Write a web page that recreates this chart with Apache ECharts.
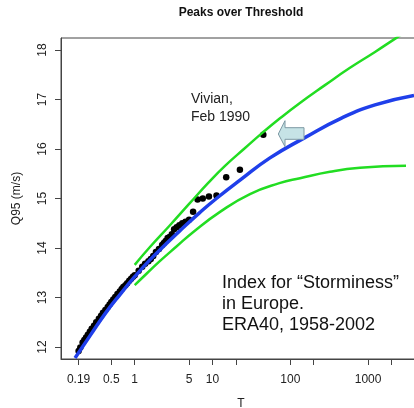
<!DOCTYPE html>
<html>
<head>
<meta charset="utf-8">
<script src="https://cdn.jsdelivr.net/npm/echarts@6/dist/echarts.min.js"></script>
<style>
  html, body { margin: 0; padding: 0; background: #fff; }
  #chart { width: 414px; height: 408px; }
</style>
</head>
<body>
<div id="chart"></div>
<script>
// Return period T (years) and Q95 storm index (m/s) of the observed peaks
const obsT = [45, 22.5, 15, 11.25, 9, 7.5, 6.43, 5.63, 5, 4.5, 4.09, 3.75, 3.46, 3.21, 3.0,
  2.81, 2.65, 2.5, 2.37, 2.25, 2.05, 1.875, 1.73, 1.61, 1.5, 1.36, 1.25, 1.125, 1.0, 0.95, 0.9,
  0.85, 0.8, 0.76, 0.714, 0.68, 0.643, 0.6, 0.5625, 0.53, 0.5, 0.475, 0.45, 0.42, 0.391, 0.37,
  0.346, 0.32, 0.3, 0.28, 0.265, 0.25, 0.237, 0.225, 0.214, 0.2, 0.19];
const obsQ = [16.29, 15.58, 15.43, 15.06, 15.04, 15.00, 14.98, 14.73, 14.57, 14.53, 14.50, 14.46, 14.42, 14.38, 14.28,
  14.22, 14.20, 14.14, 14.10, 14.06, 13.98, 13.92, 13.84, 13.78, 13.73, 13.68, 13.62, 13.54, 13.45, 13.42, 13.38,
  13.34, 13.29, 13.25, 13.21, 13.17, 13.12, 13.07, 13.01, 12.96, 12.91, 12.86, 12.81, 12.75, 12.69, 12.63,
  12.57, 12.50, 12.43, 12.37, 12.31, 12.25, 12.19, 12.14, 12.09, 11.99, 11.92];

// Fitted return level curve
const fitT = [0.171, 0.27, 0.415, 0.647, 1.0, 1.57, 2.45, 3.82, 6.91, 11.43, 22.57, 54.8, 150, 462, 1227, 3890];
const fitQ = [11.78, 12.24, 12.67, 13.06, 13.42, 13.76, 14.06, 14.35, 14.72, 15.01, 15.37, 15.82, 16.22, 16.63, 16.89, 17.08];

// Upper and lower confidence bounds
const upT = [1.0, 1.57, 2.84, 5.14, 8.75, 14.48, 26.2, 43.3, 73.7, 133, 279, 585, 1227, 2284, 3069];
const upQ = [13.66, 14.02, 14.46, 14.91, 15.31, 15.66, 16.02, 16.32, 16.62, 16.93, 17.29, 17.64, 17.96, 18.24, 18.37];
const loT = [1.0, 1.44, 2.12, 3.5, 5.62, 12.5, 30.3, 72.4, 133.3, 323.7, 787, 3069];
const loQ = [13.25, 13.49, 13.74, 14.04, 14.32, 14.73, 15.09, 15.31, 15.41, 15.54, 15.62, 15.66];

// Axis ticks
const xTickT = [0.19, 0.5, 1, 5, 10, 20, 100, 200, 1000, 2000];
const xLabelT = [0.19, 0.5, 1, 5, 10, 100, 1000];
const yTicks = [12, 13, 14, 15, 16, 17, 18];

const FONT = "'Liberation Sans', Arial, Helvetica, sans-serif";
const toXY = (ts, qs) => ts.map((t, i) => [Math.log10(t), qs[i]]);
const labelFor = v => xLabelT.reduce((a, b) =>
  Math.abs(Math.log10(b) - v) < Math.abs(Math.log10(a) - v) ? b : a);

const chart = echarts.init(document.getElementById('chart'), null, { renderer: 'canvas' });

chart.setOption({
  animation: false,
  backgroundColor: '#fff',
  grid: {
    left: 61, top: 38, width: 360, height: 321,
    outerBoundsMode: 'none', containLabel: false,
    show: true, borderColor: '#444', borderWidth: 1, backgroundColor: 'transparent'
  },
  xAxis: {
    type: 'value',
    min: -0.9473, max: 3.680,
    name: 'T', nameLocation: 'middle', nameGap: 39,
    nameTextStyle: { fontFamily: FONT, fontSize: 12, color: '#222' },
    axisLine: { show: true, onZero: false, lineStyle: { color: '#444', width: 1 } },
    axisTick: { show: true, length: 6, inside: false, lineStyle: { color: '#444' },
      customValues: xTickT.map(Math.log10) },
    axisLabel: { customValues: xLabelT.map(Math.log10), margin: 15,
      fontFamily: FONT, fontSize: 12, color: '#222',
      formatter: v => String(labelFor(v)) },
    splitLine: { show: false }
  },
  yAxis: {
    type: 'value',
    min: 11.758, max: 18.242,
    name: 'Q95 (m/s)', nameLocation: 'middle', nameGap: 38, nameRotate: 90,
    nameTextStyle: { fontFamily: FONT, fontSize: 12, color: '#222' },
    axisLine: { show: true, onZero: false, lineStyle: { color: '#444', width: 1 } },
    axisTick: { show: true, length: 6, inside: false, lineStyle: { color: '#444' },
      customValues: yTicks },
    axisLabel: { customValues: yTicks, rotate: 90, margin: 12,
      fontFamily: FONT, fontSize: 12, color: '#222' },
    splitLine: { show: false }
  },
  series: [
    {
      type: 'scatter', data: toXY(obsT, obsQ), symbol: 'circle', symbolSize: 6.5,
      itemStyle: { color: '#000', opacity: 1 }, z: 2
    },
    {
      type: 'line', data: toXY(upT, upQ), smooth: true, showSymbol: false, clip: true,
      lineStyle: { color: '#22dd22', width: 2.5 }, z: 3
    },
    {
      type: 'line', data: toXY(loT, loQ), smooth: true, showSymbol: false, clip: true,
      lineStyle: { color: '#22dd22', width: 2.5 }, z: 3
    },
    {
      type: 'line', data: toXY(fitT, fitQ), smooth: true, showSymbol: false, clip: true,
      lineStyle: { color: '#1f3fea', width: 3.5 }, z: 4
    }
  ],
  graphic: [
    {
      type: 'text', x: 241, y: 13, z: 10,
      style: { text: 'Peaks over Threshold', font: 'bold 12px ' + FONT, fill: '#111',
        align: 'center', verticalAlign: 'middle' }
    },
    {
      type: 'text', x: 191, y: 89.7, z: 10,
      style: { text: 'Vivian,\nFeb 1990', font: '14px ' + FONT, fill: '#222',
        lineHeight: 18, align: 'left', verticalAlign: 'top' }
    },
    {
      type: 'text', x: 222, y: 272, z: 10,
      style: { text: 'Index for \u201CStorminess\u201D\nin Europe.\nERA40, 1958-2002',
        font: '18px ' + FONT, fill: '#111', lineHeight: 21.3, align: 'left', verticalAlign: 'top' }
    },
    {
      type: 'polygon', z: 10,
      shape: { points: [[278.3, 134], [285, 120.7], [285, 127.7], [304, 127.7],
        [304, 139.3], [285, 139.3], [285, 146.7]] },
      style: { fill: '#c6e3e6', stroke: '#7c98a3', lineWidth: 1 }
    }
  ]
});
</script>
</body>
</html>
